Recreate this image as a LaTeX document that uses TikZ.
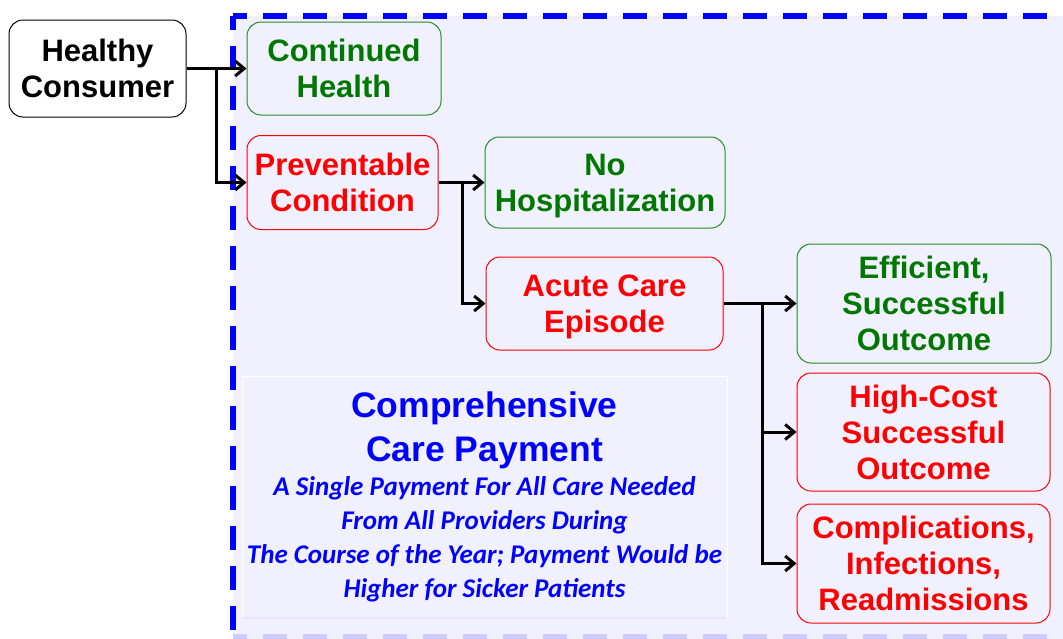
\documentclass[tikz,border=0pt]{standalone}
\usepackage{fontspec}
\setmainfont{Liberation Sans}
\newfontfamily\notefont{Carlito}
\usetikzlibrary{arrows.meta}
\usetikzlibrary{positioning}
\definecolor{okgreen}{RGB}{0,120,0}
\definecolor{badred}{RGB}{255,0,0}
\definecolor{bgblue}{RGB}{240,240,255}
\newcommand{\titletext}{\rmfamily\upshape\fontsize{35.5}{44}\selectfont}
\tikzset{box/.style = {draw, rounded corners = 14, inner sep = 0, align = center, line width = 1,
                       text depth = 0pt, font = \fontsize{31}{36}\selectfont\bfseries}}
\tikzset{good/.style = {box, draw = okgreen!85!white, text = okgreen}}
\tikzset{bad/.style = {box, draw = badred, text = badred}}
\tikzset{link/.style = {line width = 3, -{Straight Barb[length = 9pt, width = 15pt]}}}
\tikzset{frame/.style = {blue, line width = 6, dash pattern = on 24pt off 16pt, dash phase = 10pt}}

\begin{document}
\begin{tikzpicture}[x = 1pt, y = -1pt]
      \useasboundingbox (0, 0) rectangle (1063, 638);
      \fill [bgblue] (233, 16) rectangle (1070, 640);
      \draw [frame] (233, 16) -- (1070, 16);
      \draw [frame] (233, 16) -- (233, 640);
      \draw [frame, blue!20] (233, 637) -- (1070, 637);

      \node [box, fill = white, minimum width = 177, minimum height = 97] (healthy) at (97.5, 68.5) {Healthy\\Consumer};
      \node [good, minimum width = 194, minimum height = 93] (continued) at (344, 68.5) {Continued\\Health};
      \node [bad, minimum width = 191, minimum height = 94] (preventable) at (342.5, 182.5) {Preventable\\Condition};
      \node [good, minimum width = 240, minimum height = 91] (nohosp) at (605, 182.5) {No\\Hospitalization};
      \node [bad, minimum width = 237, minimum height = 93] (acute) at (604.5, 303.5) {Acute Care\\Episode};
      \node [good, minimum width = 254, minimum height = 119] (efficient) at (924, 303.5) {Efficient,\\Successful\\Outcome};
      \node [bad, minimum width = 253, minimum height = 118] (highcost) at (923.5, 432) {High-Cost\\Successful\\Outcome};
      \node [bad, minimum width = 253, minimum height = 119] (complic) at (923.5, 563.5) {Complications,\\Infections,\\Readmissions};

      \node [draw = white, fill = bgblue, inner sep = 0, align = center, text = blue,
             minimum width = 485, minimum height = 242,
             font = \notefont\bfseries\itshape\fontsize{27}{34}\selectfont] (payment) at (484.5, 497)
            {{\titletext Comprehensive}\\[10pt]{\titletext Care Payment}\\
             A Single Payment For All Care Needed\\From All Providers During\\
             The Course of the Year; Payment Would be\\Higher for Sicker Patients};
      \draw [blue!10, line width = 2] (payment.south west) -- (payment.south east);

      \draw [link] (healthy) -- (continued);
      \draw [link] (healthy.east) -- ++(30, 0) |- (preventable);
      \draw [link] (preventable) -- (nohosp);
      \draw [link] (preventable.east) -- ++(24, 0) |- (acute);
      \draw [link] (acute) -- (efficient);
      \draw [link] (acute.east) -- ++(39, 0) |- (highcost);
      \draw [link] (acute.east) -- ++(39, 0) |- (complic);
\end{tikzpicture}
\end{document}
